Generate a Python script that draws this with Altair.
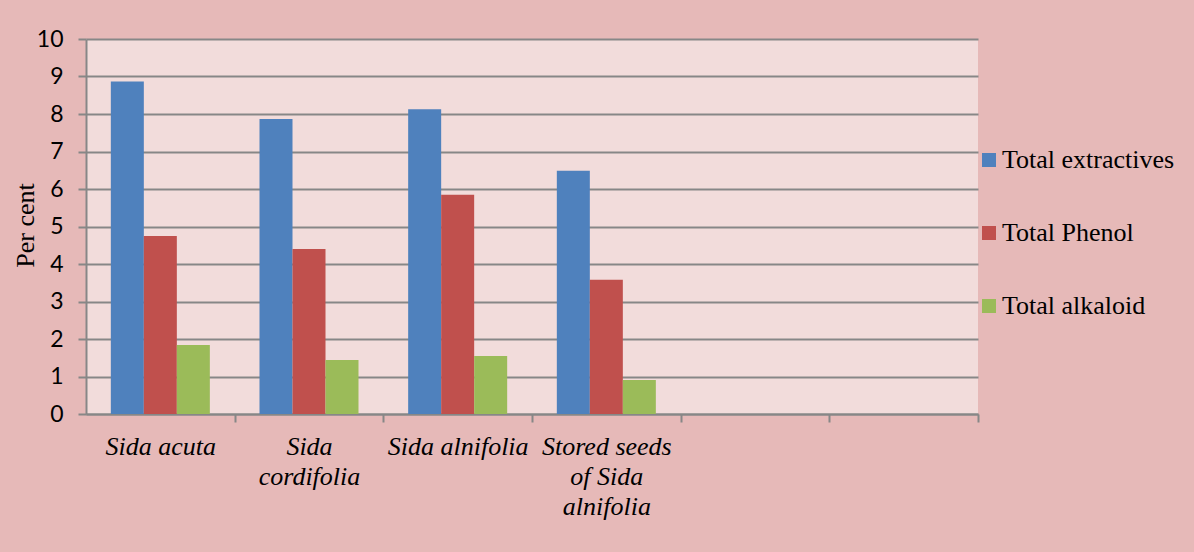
import altair as alt
import pandas as pd

categories = ["Sida acuta", "Sida|cordifolia", "Sida alnifolia", "Stored seeds|of Sida|alnifolia"]
empty_slots = ["_slot5", "_slot6"]
series = ["Total extractives", "Total Phenol", "Total alkaloid"]
total_extractives = [8.87, 7.87, 8.13, 6.49]
total_phenol = [4.75, 4.40, 5.85, 3.58]
total_alkaloid = [1.84, 1.44, 1.55, 0.91]
colors = ["#4F81BD", "#C0504D", "#9BBB59"]
y_ticks = list(range(0, 11))

rows = []
for i, c in enumerate(categories):
    for s, vals in zip(series, [total_extractives, total_phenol, total_alkaloid]):
        rows.append({"category": c, "series": s, "value": vals[i]})
df = pd.DataFrame(rows)

grey = "#878787"
step = 892 / 6

bars = alt.Chart(df).mark_bar().encode(
    x=alt.X("category:N",
            scale=alt.Scale(domain=categories + empty_slots, paddingInner=0.334, paddingOuter=0.167),
            axis=alt.Axis(title=None, labelAngle=0, tickOffset=step / 2, labelOffset=-step / 2,
                          tickSize=8, tickColor=grey, tickWidth=2, domainColor=grey, domainWidth=2,
                          labelFont="Liberation Serif", labelFontStyle="italic",
                          labelFontSize=26, labelColor="black", labelLineHeight=30,
                          labelPadding=11, labelBaseline="top", labelLimit=300,
                          labelExpr="indexof(datum.value, '_slot') == 0 ? '' : split(datum.value, '|')")),
    xOffset=alt.XOffset("series:N", scale=alt.Scale(domain=series)),
    y=alt.Y("value:Q",
            scale=alt.Scale(domain=[0, 10], nice=False),
            axis=alt.Axis(title="Per cent", values=y_ticks, grid=True, gridColor=grey, gridWidth=2,
                          tickSize=8, tickColor=grey, tickWidth=2, domainColor=grey, domainWidth=2,
                          labelFont="Lato", labelFontSize=23, labelColor="black", labelPadding=15,
                          titleFont="Liberation Serif", titleFontSize=26, titleFontWeight="normal",
                          titleColor="black", titleAngle=270, titleX=-61, titleY=186,
                          titleAlign="center", titleBaseline="middle")),
    color=alt.Color("series:N",
                    scale=alt.Scale(domain=series, range=colors),
                    legend=alt.Legend(title=None, orient="none", legendX=890, legendY=108,
                                      symbolType="square", symbolSize=196, symbolStrokeWidth=0,
                                      labelFont="Liberation Serif", labelFontSize=26, labelColor="black",
                                      labelOffset=0, rowPadding=47, labelLimit=300)),
)

chart = bars.properties(
    width=892, height=375,
    background="#E6B9B8",
    padding={"left": 86, "top": 39, "right": 216, "bottom": 138},
    autosize=alt.AutoSizeParams(type="none"),
).configure_view(fill="#F2DCDB", stroke=None)

chart.save("out.html", embed_options={"renderer": "svg", "actions": False})
